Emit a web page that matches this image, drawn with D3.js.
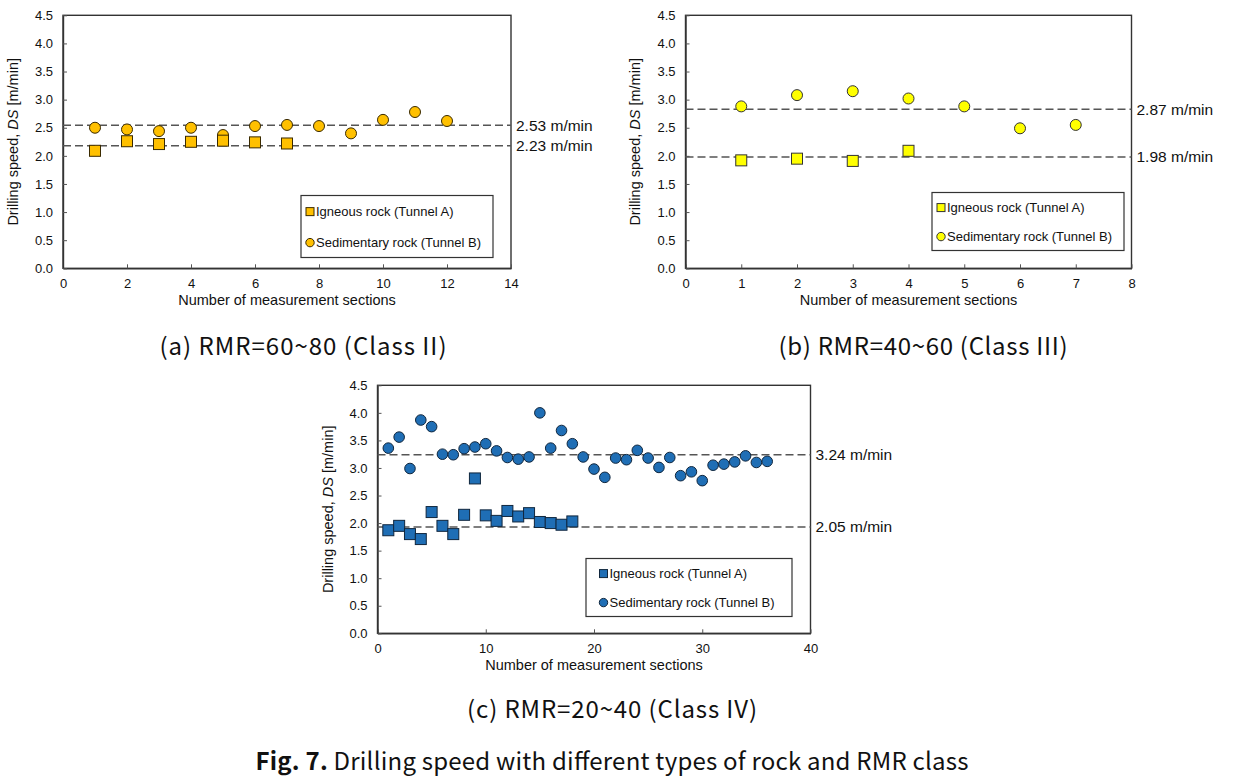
<!DOCTYPE html>
<html><head><meta charset="utf-8">
<script src="https://cdn.jsdelivr.net/npm/d3@7"></script>
<style>
html,body{margin:0;padding:0;background:#fff;}
svg{display:block;}
</style></head>
<body>
<svg id="chart" width="1235" height="778"></svg>
<script>
// ---------- DATA ----------
const yTicks = [0, 0.5, 1.0, 1.5, 2.0, 2.5, 3.0, 3.5, 4.0, 4.5];

// Panel (a) RMR=60~80
const aXTicks = [0, 2, 4, 6, 8, 10, 12, 14];
const aIgneous = [2.09, 2.26, 2.21, 2.25, 2.27, 2.24, 2.22];
const aSedimentary = [2.50, 2.47, 2.44, 2.50, 2.37, 2.53, 2.55, 2.53, 2.40, 2.64, 2.78, 2.62];
const aLines = [2.545, 2.18];
const aLineLabels = ["2.53 m/min", "2.23 m/min"];

// Panel (b) RMR=40~60
const bXTicks = [0, 1, 2, 3, 4, 5, 6, 7, 8];
const bIgneous = [1.92, 1.95, 1.91, 2.09];
const bSedimentary = [2.88, 3.08, 3.15, 3.02, 2.88, 2.49, 2.55];
const bLines = [2.83, 1.98];
const bLineLabels = ["2.87 m/min", "1.98 m/min"];

// Panel (c) RMR=20~40
const cXTicks = [0, 10, 20, 30, 40];
const cIgneous = [1.87, 1.95, 1.80, 1.71, 2.20, 1.95, 1.80, 2.15, 2.81, 2.14, 2.04, 2.22, 2.12, 2.18, 2.02, 2.00, 1.97, 2.03];
const cSedimentary = [3.36, 3.56, 2.99, 3.87, 3.75, 3.25, 3.24, 3.35, 3.38, 3.44, 3.31, 3.19, 3.16, 3.20, 4.00, 3.36, 3.68, 3.44,
                      3.20, 2.98, 2.83, 3.18, 3.15, 3.32, 3.18, 3.01, 3.19, 2.86, 2.93, 2.77, 3.05, 3.07, 3.11, 3.22, 3.10, 3.12];
const cLines = [3.24, 1.93];
const cLineLabels = ["3.24 m/min", "2.05 m/min"];

const legendLabels = ["Igneous rock (Tunnel A)", "Sedimentary rock (Tunnel B)"];
const captions = ["(a) RMR=60~80 (Class II)", "(b) RMR=40~60 (Class III)", "(c) RMR=20~40 (Class IV)"];
const figLabel = "Fig. 7.";
const figTitle = " Drilling speed with different types of rock and RMR class";

// ---------- DRAW ----------
const svg = d3.select("#chart");
const FONT = "'Liberation Sans', Arial, sans-serif";
const CAPFONT = "'Noto Sans CJK KR', 'Noto Sans', sans-serif";

function panel(cfg) {
  const g = svg.append("g");
  const x = d3.scaleLinear().domain([cfg.xTicks[0], cfg.xTicks[cfg.xTicks.length-1]]).range([cfg.left, cfg.right]);
  const y = d3.scaleLinear().domain([0, 4.5]).range([cfg.bottom, cfg.top]);

  g.append("rect").attr("x", cfg.left).attr("y", cfg.top)
    .attr("width", cfg.right - cfg.left).attr("height", cfg.bottom - cfg.top)
    .attr("fill", "none").attr("stroke", "#333").attr("stroke-width", 1.4);

  const xa = g.append("g").attr("transform", `translate(0,${cfg.bottom})`)
    .call(d3.axisBottom(x).tickValues(cfg.xTicks).tickSizeInner(-4).tickSizeOuter(0).tickPadding(10).tickFormat(d3.format("d")));
  const ya = g.append("g").attr("transform", `translate(${cfg.left},0)`)
    .call(d3.axisLeft(y).tickValues(yTicks).tickSizeInner(-4).tickSizeOuter(0).tickPadding(10).tickFormat(d3.format(".1f")));
  [xa, ya].forEach(a => {
    a.select(".domain").attr("stroke", "#333").attr("stroke-width", 1.4);
    a.selectAll(".tick line").attr("stroke", "#555").attr("stroke-width", 1);
    a.selectAll(".tick text").attr("font-family", FONT).attr("font-size", 13).attr("fill", "#111");
  });

  cfg.lines.forEach((v, i) => {
    g.append("line").attr("x1", cfg.left).attr("x2", cfg.right)
      .attr("y1", y(v)).attr("y2", y(v))
      .attr("stroke", "#555").attr("stroke-width", 1.4).attr("stroke-dasharray", "8,4");
    g.append("text").attr("x", cfg.right + 5).attr("y", y(v)).attr("dy", "0.35em")
      .attr("font-family", FONT).attr("font-size", 15.5).attr("fill", "#111").text(cfg.lineLabels[i]);
  });

  g.selectAll("circle.sed").data(cfg.sed).join("circle").attr("class", "sed")
    .attr("cx", (d, i) => x(i + 1)).attr("cy", d => y(d)).attr("r", cfg.r)
    .attr("fill", cfg.color).attr("stroke", cfg.stroke).attr("stroke-width", 1);
  const s = cfg.sq;
  g.selectAll("rect.ign").data(cfg.ign).join("rect").attr("class", "ign")
    .attr("x", (d, i) => x(i + 1) - s/2).attr("y", d => y(d) - s/2)
    .attr("width", s).attr("height", s)
    .attr("fill", cfg.color).attr("stroke", cfg.stroke).attr("stroke-width", 1);

  g.append("text").attr("x", (cfg.left + cfg.right)/2).attr("y", cfg.bottom + 37)
    .attr("text-anchor", "middle").attr("font-family", FONT).attr("font-size", 14.5).attr("fill", "#111")
    .text("Number of measurement sections");
  const yt = g.append("text")
    .attr("transform", `translate(${cfg.ytx},${(cfg.top + cfg.bottom)/2}) rotate(-90)`)
    .attr("text-anchor", "middle").attr("font-family", FONT).attr("font-size", 14.5).attr("fill", "#111");
  yt.append("tspan").text("Drilling speed, ");
  yt.append("tspan").attr("font-style", "italic").text("DS");
  yt.append("tspan").text(" [m/min]");

  const L = cfg.legend;
  g.append("rect").attr("x", L.x).attr("y", L.y).attr("width", L.w).attr("height", L.h)
    .attr("fill", "#fff").attr("stroke", "#333").attr("stroke-width", 1.2);
  const r1 = L.y + L.h * 0.26, r2 = L.y + L.h * 0.76;
  g.append("rect").attr("x", L.mx - 4).attr("y", r1 - 4).attr("width", 8).attr("height", 8)
    .attr("fill", cfg.color).attr("stroke", cfg.stroke).attr("stroke-width", 1);
  g.append("circle").attr("cx", L.mx).attr("cy", r2).attr("r", 4.2)
    .attr("fill", cfg.color).attr("stroke", cfg.stroke).attr("stroke-width", 1);
  [r1, r2].forEach((ry, i) => {
    g.append("text").attr("x", L.mx + 6).attr("y", ry).attr("dy", "0.35em")
      .attr("font-family", FONT).attr("font-size", 13).attr("fill", "#111").text(legendLabels[i]);
  });

  svg.append("text").attr("x", cfg.capX).attr("y", cfg.capY).attr("dy", "0.35em")
    .attr("text-anchor", "middle").attr("font-family", CAPFONT).attr("font-size", 24)
    .attr("font-weight", 400).attr("fill", "#111")
    .attr("textLength", cfg.capW).attr("lengthAdjust", "spacing")
    .text(cfg.caption);
}

panel({
  left: 63, right: 511, top: 15.3, bottom: 268.3, xTicks: aXTicks,
  ign: aIgneous, sed: aSedimentary, lines: aLines, lineLabels: aLineLabels,
  color: "#FFC000", stroke: "#3a2a00", r: 5.5, sq: 11, ytx: 18,
  legend: {x: 301, y: 195.5, w: 192, h: 62, mx: 310},
  caption: captions[0], capX: 303, capY: 347, capW: 287
});
panel({
  left: 685.5, right: 1131.5, top: 15.3, bottom: 268.3, xTicks: bXTicks,
  ign: bIgneous, sed: bSedimentary, lines: bLines, lineLabels: bLineLabels,
  color: "#FFFF00", stroke: "#333", r: 5.5, sq: 11, ytx: 640,
  legend: {x: 932, y: 192.5, w: 192, h: 58, mx: 941},
  caption: captions[1], capX: 923, capY: 347, capW: 289
});
panel({
  left: 377.5, right: 810.5, top: 385.3, bottom: 633.3, xTicks: cXTicks,
  ign: cIgneous, sed: cSedimentary, lines: cLines, lineLabels: cLineLabels,
  color: "#1F6EB5", stroke: "#10263d", r: 5.3, sq: 11, ytx: 333,
  legend: {x: 586, y: 558.5, w: 206, h: 58, mx: 603.5},
  caption: captions[2], capX: 612, capY: 710, capW: 290
});

const ft = svg.append("text").attr("x", 612).attr("y", 762).attr("dy", "0.35em")
  .attr("text-anchor", "middle").attr("font-family", CAPFONT).attr("font-size", 24).attr("fill", "#111")
  .attr("textLength", 713).attr("lengthAdjust", "spacing");
ft.append("tspan").attr("font-weight", "bold").text(figLabel);
ft.append("tspan").attr("font-weight", 400).text(figTitle);
</script>
</body></html>
